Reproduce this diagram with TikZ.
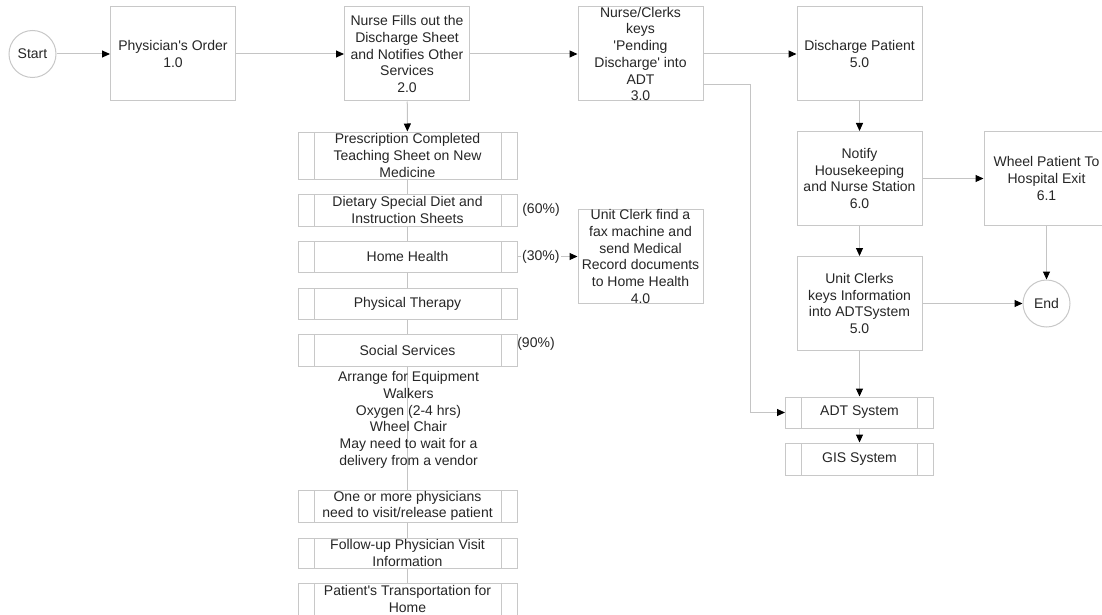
\documentclass[tikz,border=0pt]{standalone}
\usepackage{fontspec}
\setmainfont{Liberation Sans}[Ligatures=TeXOff]
\usepackage{tikz}
\usetikzlibrary{arrows.meta}

\definecolor{edgegray}{RGB}{200,200,200}
\definecolor{linegray}{RGB}{196,196,196}
\definecolor{inkgray}{RGB}{38,38,38}

\tikzset{
  proc/.style={rectangle, draw=edgegray, line width=1pt, fill=white,
    minimum width=125pt, minimum height=94pt, align=center, inner sep=0pt},
  subproc/.style={rectangle, draw=edgegray, line width=1pt, fill=white,
    minimum width=219pt, minimum height=32pt, align=center, inner sep=0pt,
    path picture={
      \draw[edgegray, line width=1pt]
        ([xshift=16pt]path picture bounding box.north west) -- ([xshift=16pt]path picture bounding box.south west)
        ([xshift=-16pt]path picture bounding box.north east) -- ([xshift=-16pt]path picture bounding box.south east);
    }},
  term/.style={circle, draw=edgegray, line width=1pt, fill=white,
    minimum size=47pt, inner sep=0pt},
  flow/.style={draw=linegray, line width=1pt,
    -{Triangle[length=8pt, width=7pt, color=black]}},
  link/.style={draw=linegray, line width=1pt},
}

\begin{document}
\begin{tikzpicture}[x=1pt, y=-1pt,
    every node/.style={font=\fontsize{14}{16.7}\selectfont, text=inkgray}]
  \useasboundingbox (0,0) rectangle (1102,615);

  % top row
  \node[term] (start) at (32.5,54) {Start};
  \node[proc] (order) at (173,54) {Physician's Order\\1.0};
  \node[proc] (fillout) at (407,54) {Nurse Fills out the\\Discharge Sheet\\and Notifies Other\\Services\\2.0};
  \node[proc] (pending) at (640.5,54) {Nurse/Clerks\\keys\\'Pending\\Discharge' into\\ADT\\3.0};
  \node[proc] (discharge) at (859.5,54) {Discharge Patient\\5.0};

  % right column
  \node[proc] (notify) at (859.5,178.5) {Notify\\Housekeeping\\and Nurse Station\\6.0};
  \node[proc] (wheel) at (1046.5,178.5) {Wheel Patient To\\Hospital Exit\\6.1};
  \node[proc] (keyinfo) at (859.5,303.5) {Unit Clerks\\keys Information\\into ADTSystem\\5.0};
  \node[term] (end) at (1046.5,303.5) {End};
  \node[subproc, minimum width=148pt, minimum height=31pt] (adt) at (859.5,412.5) {ADT System};
  \node[subproc, minimum width=148pt] (gis) at (859.5,459) {GIS System};

  % services column
  \node[subproc, minimum height=47pt] (rx) at (407.5,155.5) {Prescription Completed\\Teaching Sheet on New\\Medicine};
  \node[subproc] (diet) at (407.5,210) {Dietary Special Diet and\\Instruction Sheets};
  \node[subproc, minimum height=31pt] (home) at (407.5,256.5) {Home Health};
  \node[subproc, minimum height=31pt] (therapy) at (407.5,303.5) {Physical Therapy};
  \node[subproc] (social) at (407.5,350) {Social Services};
  \node[subproc] (release) at (407.5,506) {One or more physicians\\need to visit/release patient};
  \node[subproc, minimum height=30pt] (followup) at (407.5,553) {Follow-up Physician Visit\\Information};
  \node[subproc] (transport) at (407.5,599) {Patient's Transportation for\\Home};
  \node[proc] (fax) at (640.5,256.5) {Unit Clerk find a\\fax machine and\\send Medical\\Record documents\\to Home Health\\4.0};

  \node (pct60) at (541,210) {(60\%)};
  \node (pct90) at (536,344) {(90\%)};

  % connectors
  \draw[flow] (start) -- (order);
  \draw[flow] (order) -- (fillout);
  \draw[flow] (fillout) -- (pending);
  \draw[flow] (pending) -- (discharge);
  \draw[flow] (fillout) -- (rx);
  \draw[link] (rx) -- (diet);
  \draw[link] (diet) -- (home);
  \draw[link] (home) -- (therapy);
  \draw[link] (therapy) -- (social);
  \draw[link] (social) -- (release);
  \draw[link] (release) -- (followup);
  \draw[link] (followup) -- (transport);
  \draw[flow] (home) -- node[pos=0.39, fill=white, inner sep=1pt] (pct30) {(30\%)} (fax);
  \draw[flow] ([yshift=-31pt]pending.east) -- ++(47,0) |- (adt.west);
  \draw[flow] (discharge) -- (notify);
  \draw[flow] (notify) -- (wheel);
  \draw[flow] (notify) -- (keyinfo);
  \draw[flow] (wheel) -- (end);
  \draw[flow] (keyinfo) -- (end);
  \draw[flow] (keyinfo) -- (adt);
  \draw[flow] (adt) -- (gis);

  \node[align=center] (equip) at (408.5,420) {Arrange for Equipment\\Walkers\\Oxygen (2-4 hrs)\\Wheel Chair\\May need to wait for a\\delivery from a vendor};
\end{tikzpicture}
\end{document}
